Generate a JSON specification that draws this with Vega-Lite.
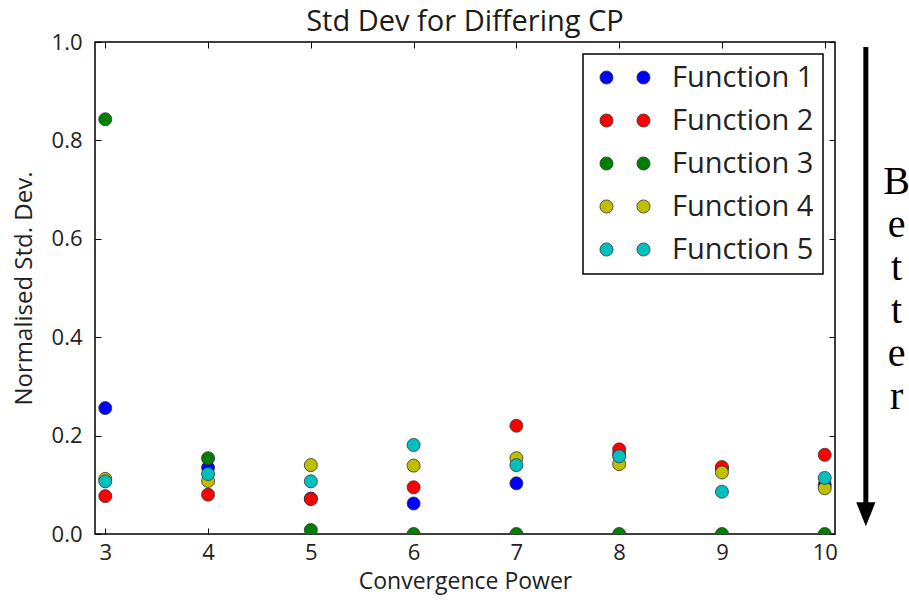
{
  "$schema": "https://vega.github.io/schema/vega-lite/v6.json",
  "width": 740,
  "height": 492,
  "padding": {"left": 12, "top": 8, "right": 0, "bottom": 3},
  "title": {
    "text": "Std Dev for Differing CP",
    "font": "Open Sans",
    "fontSize": 29,
    "fontWeight": "normal",
    "color": "#1a1a1a",
    "offset": -6
  },
  "config": {
    "view": {"stroke": "black", "strokeWidth": 1.5},
    "axis": {
      "grid": false,
      "domain": false,
      "tickColor": "black",
      "tickSize": -6,
      "tickWidth": 1,
      "labelFont": "Open Sans",
      "labelFontSize": 22,
      "labelColor": "#222222",
      "titleFont": "Open Sans",
      "titleFontSize": 23,
      "titleFontWeight": "normal",
      "titleColor": "#222222"
    }
  },
  "resolve": {"axis": {"x": "independent", "y": "independent"}},
  "layer": [
    {
      "data": {
        "values": [
          {"cp": 3, "fn": "Function 1", "sd": 0.256},
          {"cp": 4, "fn": "Function 1", "sd": 0.135},
          {"cp": 5, "fn": "Function 1", "sd": 0.072},
          {"cp": 6, "fn": "Function 1", "sd": 0.062},
          {"cp": 7, "fn": "Function 1", "sd": 0.103},
          {"cp": 8, "fn": "Function 1", "sd": 0.162},
          {"cp": 9, "fn": "Function 1", "sd": 0.133},
          {"cp": 10, "fn": "Function 1", "sd": 0.1},
          {"cp": 3, "fn": "Function 2", "sd": 0.077},
          {"cp": 4, "fn": "Function 2", "sd": 0.08},
          {"cp": 5, "fn": "Function 2", "sd": 0.071},
          {"cp": 6, "fn": "Function 2", "sd": 0.095},
          {"cp": 7, "fn": "Function 2", "sd": 0.22},
          {"cp": 8, "fn": "Function 2", "sd": 0.172},
          {"cp": 9, "fn": "Function 2", "sd": 0.136},
          {"cp": 10, "fn": "Function 2", "sd": 0.161},
          {"cp": 3, "fn": "Function 3", "sd": 0.843},
          {"cp": 4, "fn": "Function 3", "sd": 0.154},
          {"cp": 5, "fn": "Function 3", "sd": 0.008},
          {"cp": 6, "fn": "Function 3", "sd": 0.0},
          {"cp": 7, "fn": "Function 3", "sd": 0.0},
          {"cp": 8, "fn": "Function 3", "sd": 0.0},
          {"cp": 9, "fn": "Function 3", "sd": 0.0},
          {"cp": 10, "fn": "Function 3", "sd": 0.0},
          {"cp": 3, "fn": "Function 4", "sd": 0.112},
          {"cp": 4, "fn": "Function 4", "sd": 0.108},
          {"cp": 5, "fn": "Function 4", "sd": 0.14},
          {"cp": 6, "fn": "Function 4", "sd": 0.139},
          {"cp": 7, "fn": "Function 4", "sd": 0.154},
          {"cp": 8, "fn": "Function 4", "sd": 0.142},
          {"cp": 9, "fn": "Function 4", "sd": 0.125},
          {"cp": 10, "fn": "Function 4", "sd": 0.093},
          {"cp": 3, "fn": "Function 5", "sd": 0.107},
          {"cp": 4, "fn": "Function 5", "sd": 0.122},
          {"cp": 5, "fn": "Function 5", "sd": 0.107},
          {"cp": 6, "fn": "Function 5", "sd": 0.181},
          {"cp": 7, "fn": "Function 5", "sd": 0.14},
          {"cp": 8, "fn": "Function 5", "sd": 0.158},
          {"cp": 9, "fn": "Function 5", "sd": 0.086},
          {"cp": 10, "fn": "Function 5", "sd": 0.114}
        ]
      },
      "mark": {
        "type": "point",
        "shape": "circle",
        "filled": true,
        "size": 170,
        "opacity": 1,
        "stroke": "#333333",
        "strokeWidth": 0.8,
        "clip": true
      },
      "encoding": {
        "x": {
          "field": "cp",
          "type": "quantitative",
          "scale": {"domain": [2.9, 10.1], "nice": false, "zero": false},
          "axis": {
            "orient": "bottom",
            "values": [3, 4, 5, 6, 7, 8, 9, 10],
            "labelPadding": 14,
            "titlePadding": 7,
            "title": "Convergence Power"
          }
        },
        "y": {
          "field": "sd",
          "type": "quantitative",
          "scale": {"domain": [0, 1], "nice": false},
          "axis": {
            "orient": "left",
            "values": [0, 0.2, 0.4, 0.6, 0.8, 1.0],
            "format": ".1f",
            "labelPadding": 19,
            "titlePadding": 15,
            "titleFontSize": 24,
            "title": "Normalised Std. Dev."
          }
        },
        "color": {
          "field": "fn",
          "type": "nominal",
          "scale": {
            "domain": ["Function 1", "Function 2", "Function 3", "Function 4", "Function 5"],
            "range": ["#0000ff", "#ff0000", "#008000", "#bfbf00", "#00bfbf"]
          },
          "legend": {
            "title": null,
            "orient": "top-right",
            "offset": 12,
            "fillColor": "white",
            "strokeColor": "black",
            "padding": 9,
            "rowPadding": 13,
            "symbolType": "M -1,0 A 1,1 0 1,0 1,0 A 1,1 0 1,0 -1,0 Z M 4.69,0 A 1,1 0 1,0 6.69,0 A 1,1 0 1,0 4.69,0 Z",
            "symbolSize": 169,
            "symbolStrokeColor": "#333333",
            "symbolStrokeWidth": 0.8,
            "symbolOpacity": 1,
            "labelFont": "Open Sans",
            "labelFontSize": 29,
            "labelColor": "#222222",
            "labelOffset": 51,
            "encode": {"legend": {"update": {"strokeWidth": {"value": 1.5}}}}
          }
        }
      }
    },
    {
      "data": {"values": [{}]},
      "mark": {"type": "rule", "color": "black", "strokeWidth": 5, "clip": false},
      "encoding": {
        "x": {
          "datum": 10.4,
          "type": "quantitative",
          "scale": {"domain": [2.9, 10.1], "nice": false, "zero": false},
          "axis": {"orient": "top", "values": [3, 4, 5, 6, 7, 8, 9, 10], "labels": false, "title": null}
        },
        "y": {
          "datum": 0.99,
          "type": "quantitative",
          "scale": {"domain": [0, 1], "nice": false},
          "axis": {"orient": "right", "values": [0, 0.2, 0.4, 0.6, 0.8, 1.0], "labels": false, "title": null}
        },
        "y2": {"datum": 0.06}
      }
    },
    {
      "data": {"values": [{}]},
      "mark": {
        "type": "point",
        "shape": "M -0.8,-1 L 0.8,-1 L 0,1 Z",
        "filled": true,
        "color": "black",
        "opacity": 1,
        "size": 576,
        "clip": false
      },
      "encoding": {
        "x": {"datum": 10.4, "type": "quantitative", "scale": {"domain": [2.9, 10.1], "nice": false, "zero": false}, "axis": null},
        "y": {"datum": 0.04, "type": "quantitative", "scale": {"domain": [0, 1], "nice": false}, "axis": null}
      }
    },
    {
      "data": {"values": [{}]},
      "mark": {
        "type": "text",
        "text": ["B", "e", "t", "t", "e", "r"],
        "font": "Liberation Serif",
        "fontSize": 40,
        "lineHeight": 43,
        "align": "center",
        "baseline": "alphabetic",
        "color": "black",
        "clip": false
      },
      "encoding": {
        "x": {"datum": 10.7, "type": "quantitative", "scale": {"domain": [2.9, 10.1], "nice": false, "zero": false}, "axis": null},
        "y": {"datum": 0.692, "type": "quantitative", "scale": {"domain": [0, 1], "nice": false}, "axis": null}
      }
    }
  ]
}
